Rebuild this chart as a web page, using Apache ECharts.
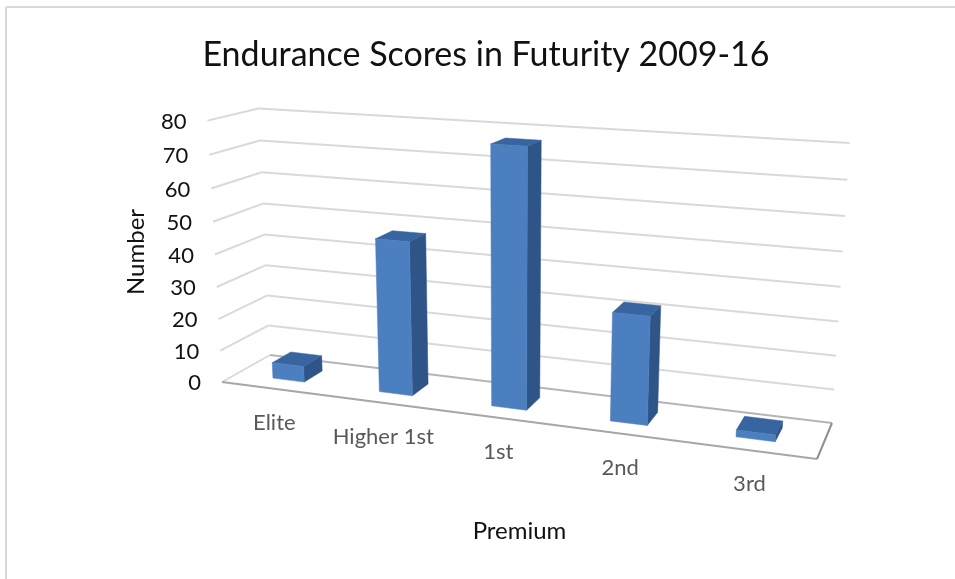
<!DOCTYPE html>
<html>
<head>
<meta charset="utf-8">
<title>Endurance Scores in Futurity 2009-16</title>
<script src="https://cdn.jsdelivr.net/npm/echarts@6/dist/echarts.min.js"></script>
<style>
    html, body { margin: 0; padding: 0; background: #fff; }
    #main { width: 955px; height: 579px; }
</style>
</head>
<body>
<div id="main"></div>
<script>
    const categories = ['Elite', 'Higher 1st', '1st', '2nd', '3rd'];
    const values = [5, 47, 77, 32, 2];
    const valueTicks = [0, 10, 20, 30, 40, 50, 60, 70, 80];

    const FONT = 'Lato';
    const GRID = {left: 222, top: 122, width: 595, height: 260};

    // floor of the 3D box on screen: front-left, front-right, back-right, back-left
    const floorQuad = [[222, 382], [817, 459], [832, 423], [270, 355]];
    // where the vertical edges meet, and how far up the box goes towards it
    const VANISH = [510, 5543];
    const LIFT = -0.0482;

    // bars in unit floor space
    const BAR_WIDTH = 0.3;
    const BAR_FRONT = 0.3;
    const BAR_BACK = 0.7;

    function homography(q) {
        const [x0, y0] = q[0], [x1, y1] = q[1], [x2, y2] = q[2], [x3, y3] = q[3];
        const dx1 = x1 - x2, dx2 = x3 - x2, sx = x0 - x1 + x2 - x3;
        const dy1 = y1 - y2, dy2 = y3 - y2, sy = y0 - y1 + y2 - y3;
        const den = dx1 * dy2 - dx2 * dy1;
        const g = (sx * dy2 - dx2 * sy) / den;
        const h = (dx1 * sy - sx * dy1) / den;
        const a = x1 - x0 + g * x1, b = x3 - x0 + h * x3;
        const d = y1 - y0 + g * y1, e = y3 - y0 + h * y3;
        return function (u, w) {
            return [a * u + b * w + x0, d * u + e * w + y0, g * u + h * w + 1];
        };
    }

    const floorMap = homography(floorQuad);

    // u: 0-1 along the categories, t: 0-1 up the value axis, w: 0 front, 1 back
    function project(u, t, w) {
        const p = floorMap(u, w);
        const k = t * LIFT;
        const z = p[2] + k;
        return [(p[0] + k * VANISH[0]) / z, (p[1] + k * VANISH[1]) / z];
    }

    function toUnit(pt) {
        return [(pt[0] - GRID.left) / GRID.width, (GRID.top + GRID.height - pt[1]) / GRID.height];
    }

    function poly(points, fill) {
        return {
            type: 'polygon',
            shape: {points: points},
            style: {fill: fill, stroke: fill, lineWidth: 0.5}
        };
    }

    function seg(a, b, color, width) {
        return {
            type: 'line',
            shape: {x1: a[0], y1: a[1], x2: b[0], y2: b[1]},
            style: {stroke: color, lineWidth: width}
        };
    }

    function renderWall(params, api) {
        const v = api.value(0);
        const t = toUnit(api.coord([0, v]))[1];
        const fl = project(0, t, 0), bl = project(0, t, 1), br = project(1, t, 1);
        const children = [];
        if (v === 0) {
            const fr = project(1, 0, 0);
            children.push(seg(fl, bl, '#d9d9d9', 2));
            children.push(seg(bl, br, '#b5b5b5', 2));
            children.push(seg(fl, fr, '#a6a6a6', 2));
            children.push(seg(fr, br, '#8f8f8f', 2));
        } else {
            children.push(seg(fl, bl, '#d9d9d9', 2));
            children.push(seg(bl, br, '#d9d9d9', 2));
        }
        children.push({
            type: 'text',
            style: {
                x: fl[0] - 21, y: fl[1] + 1, text: String(v),
                font: '22px ' + FONT, fill: '#111', align: 'right', verticalAlign: 'middle'
            }
        });
        return {type: 'group', children: children};
    }

    function renderBar(params, api) {
        const pt = toUnit(api.coord([api.value(0), api.value(1)]));
        const half = api.size([1, 0])[0] / GRID.width * BAR_WIDTH / 2;
        const u0 = pt[0] - half, u1 = pt[0] + half, t = pt[1];
        const a = project(u0, 0, BAR_FRONT), b = project(u1, 0, BAR_FRONT), c = project(u1, 0, BAR_BACK);
        const d = project(u0, t, BAR_FRONT), e = project(u1, t, BAR_FRONT);
        const f = project(u1, t, BAR_BACK), g = project(u0, t, BAR_BACK);
        return {
            type: 'group',
            children: [
                poly([e, f, c, b], '#2f5488'),
                poly([d, e, f, g], '#38659f'),
                poly([a, b, e, d], '#4c7fbf')
            ]
        };
    }

    function renderCategory(params, api) {
        const pt = toUnit(api.coord([api.value(0), 0]));
        const p = project(pt[0], 0, 0);
        return {
            type: 'text',
            style: {
                x: p[0], y: p[1] + 34, text: categories[api.value(0)],
                font: '22px ' + FONT, fill: '#595959', align: 'center', verticalAlign: 'middle'
            }
        };
    }

    const chart = echarts.init(document.getElementById('main'));
    chart.setOption({
        animation: false,
        backgroundColor: '#fff',
        title: {
            text: 'Endurance Scores in Futurity 2009-16',
            left: 481,
            top: 33,
            textAlign: 'center',
            textStyle: {fontFamily: FONT, fontSize: 34, fontWeight: 'normal', color: '#111'}
        },
        graphic: [
            {type: 'line', shape: {x1: 6, y1: 7, x2: 955, y2: 7}, style: {stroke: '#d9d9d9', lineWidth: 2}},
            {type: 'line', shape: {x1: 6, y1: 7, x2: 6, y2: 579}, style: {stroke: '#d9d9d9', lineWidth: 2}}
        ],
        grid: GRID,
        xAxis: {
            type: 'category',
            data: categories,
            name: 'Premium',
            nameLocation: 'middle',
            nameGap: 137,
            nameTextStyle: {fontFamily: FONT, fontSize: 24, color: '#111'},
            axisLine: {show: false},
            axisTick: {show: false},
            axisLabel: {show: false}
        },
        yAxis: {
            type: 'value',
            min: 0,
            max: 80,
            interval: 10,
            name: 'Number',
            nameLocation: 'middle',
            nameGap: 74,
            nameTextStyle: {fontFamily: FONT, fontSize: 24, color: '#111'},
            splitLine: {show: false},
            axisLine: {show: false},
            axisTick: {show: false},
            axisLabel: {show: false}
        },
        series: [
            {
                type: 'custom',
                name: 'walls',
                coordinateSystem: 'cartesian2d',
                renderItem: renderWall,
                clip: false,
                silent: true,
                z: 1,
                encode: {y: 0},
                data: valueTicks.map(function (v) { return [v]; })
            },
            {
                type: 'custom',
                name: 'Number',
                coordinateSystem: 'cartesian2d',
                renderItem: renderBar,
                clip: false,
                z: 2,
                encode: {x: 0, y: 1},
                data: values.map(function (v, i) { return [i, v]; })
            },
            {
                type: 'custom',
                name: 'labels',
                coordinateSystem: 'cartesian2d',
                renderItem: renderCategory,
                clip: false,
                silent: true,
                z: 3,
                encode: {x: 0},
                data: categories.map(function (c, i) { return [i]; })
            }
        ]
    });
</script>
</body>
</html>
